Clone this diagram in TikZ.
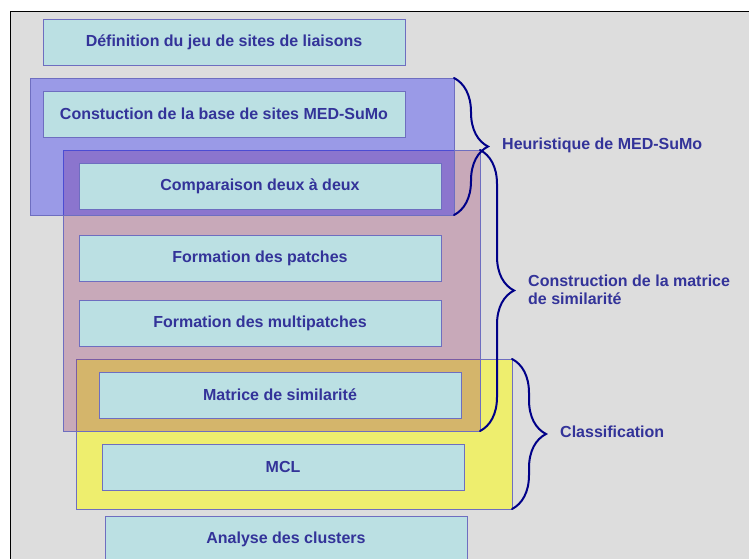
\documentclass[tikz,border=0pt]{standalone}
\usepackage{fontspec}
\setmainfont{Liberation Sans}
\usepackage{tikz}
\usetikzlibrary{decorations.pathreplacing}
\usepackage{xcolor}
\definecolor{fondgris}{HTML}{DDDDDD}
\definecolor{fondcyan}{HTML}{BBE0E3}
\definecolor{traitbleu}{RGB}{110,110,192}
\definecolor{textebleu}{HTML}{333399}
\definecolor{accbleu}{HTML}{000088}
\definecolor{zoneheur}{HTML}{0000FF}
\definecolor{zoneconstr}{HTML}{993366}
\definecolor{zoneclassif}{HTML}{FFFF00}
\newcommand{\policeetape}{\fontsize{16}{18}\selectfont\bfseries}

\begin{document}
\begin{tikzpicture}[x=1pt,y=-1pt,
  etape/.style={draw=traitbleu,line width=0.8pt,fill=fondcyan,minimum width=362pt,
    minimum height=46pt,inner sep=0pt,outer sep=0pt,text=textebleu,font=\policeetape},
  zone/.style={draw=traitbleu,line width=0.8pt,anchor=north west,inner sep=0pt,outer sep=0pt},
  accolade/.style={decorate,decoration={brace,amplitude=34pt},draw=accbleu,line width=2pt,line cap=round},
  legende/.style={anchor=west,inner sep=0pt,align=left,text=textebleu,font=\policeetape}]
\useasboundingbox (0,0) rectangle (749,559);
\fill[white] (0,0) rectangle (749,559);
\fill[fondgris] (10.5,12) rectangle (749,559);
\draw[line width=1pt] (10.5,559) -- (10.5,12) -- (749,12);

\node[zone,fill=zoneclassif,fill opacity=0.5,minimum width=436pt,minimum height=150pt] (classif) at (76,359) {};
\node[zone,fill=zoneconstr,fill opacity=0.3,minimum width=417pt,minimum height=281pt] (constr) at (63,150) {};
\node[zone,fill=zoneheur,fill opacity=0.3,minimum width=424pt,minimum height=137pt] (heur) at (30,78) {};

\node[etape] (defjeu) at (224,42) {Définition du jeu de sites de liaisons};
\node[etape] (base) at (224,114) {Constuction de la base de sites MED-SuMo};
\node[etape] (compar) at (260,186) {Comparaison deux à deux};
\node[etape] (patches) at (260,258) {Formation des patches};
\node[etape] (multi) at (260,323) {Formation des multipatches};
\node[etape] (matrice) at (280,395) {Matrice de similarité};
\node[etape] (mcl) at (283,467) {MCL};
\node[etape] (analyse) at (286,539) {Analyse des clusters};

\draw[accolade] (heur.north east) -- (heur.south east);
\draw[accolade] (constr.north east) -- (constr.south east);
\draw[accolade] (classif.north east) -- (classif.south east);

\node[legende] (lheur) at (502,145) {Heuristique de MED-SuMo};
\node[legende] (lconstr) at (528,290) {Construction de la matrice\\de similarité};
\node[legende] (lclassif) at (560,432) {Classification};
\end{tikzpicture}
\end{document}
